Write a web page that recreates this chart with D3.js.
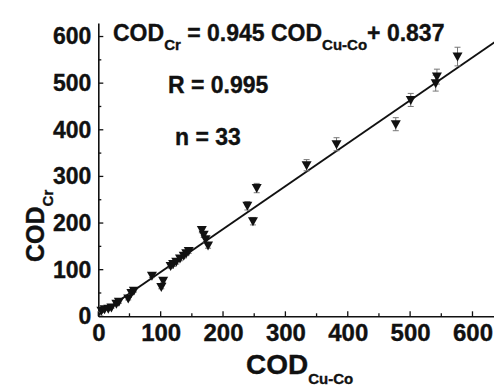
<!DOCTYPE html>
<html><head><meta charset="utf-8">
<script src="https://cdn.jsdelivr.net/npm/d3@7"></script>
<style>body{margin:0;background:#fff}svg{display:block}text{font-family:"Liberation Sans",Arial,sans-serif;font-weight:bold;fill:#111;stroke:#111;stroke-width:0.35px}</style>
</head><body>
<svg id="c" width="494" height="387"></svg>
<script>
const codCuCo = [5,10,16,21,29,33,48,53,57,86,101,104,116,120,125,131,137,141,145,166,169,172,176,239,248,254,334,382,477,501,541,543,576];
const codCr   = [12,15,16,19,27,31,38,50,55,87,63,76,108,112,117,124,130,135,140,185,175,165,152,237,204,275,324,369,412,464,500,514,557];
const errCr   = [2,2,2,2,3,3,3,3,3,4,4,4,5,5,5,5,5,5,5,6,6,6,6,9,8,10,12,14,14,14,17,16,20];
const fitX = [0, 640];
const fitY = [3, 592];
const xTicks = [0,100,200,300,400,500,600];
const yTicks = [0,100,200,300,400,500,600];

const svg = d3.select("#c");
const x = d3.scaleLinear().domain([0, 634.5]).range([98.3, 494]);
const y = d3.scaleLinear().domain([0, 629]).range([316.3, 23]);

svg.append("defs").append("clipPath").attr("id","cp").append("rect")
  .attr("x",98.3).attr("y",10).attr("width",400).attr("height",306.3);

const xAxis = d3.axisBottom(x).tickValues(xTicks).tickSize(0).tickPadding(8).tickFormat(d3.format("d"));
const gx = svg.append("g").attr("transform","translate(0,316.3)").call(xAxis);
gx.select(".domain").attr("stroke","#111").attr("stroke-width",1.6);
gx.selectAll("text").style("font-size","24px").attr("dy","0.71em");
const yAxis = d3.axisLeft(y).tickValues(yTicks).tickSize(0).tickPadding(7).tickFormat(d3.format("d"));
const gy = svg.append("g").attr("transform","translate(98.3,0)").call(yAxis);
gy.select(".domain").attr("stroke","#111").attr("stroke-width",1.6);
gy.selectAll("text").style("font-size","23px");

const xMinor = d3.range(0, 634, 50);
svg.append("g").selectAll("line").data(xMinor).join("line")
  .attr("x1",d=>x(d)).attr("x2",d=>x(d)).attr("y1",316.3).attr("y2",d=>316.3-(d%100===0?5:3))
  .attr("stroke","#111").attr("stroke-width",1.3);
const yMinor = d3.range(0, 629, 50);
svg.append("g").selectAll("line").data(yMinor).join("line")
  .attr("y1",d=>y(d)).attr("y2",d=>y(d)).attr("x1",98.3).attr("x2",d=>98.3+(d%100===0?5:3))
  .attr("stroke","#111").attr("stroke-width",1.3);

svg.append("line").attr("clip-path","url(#cp)")
  .attr("x1",x(fitX[0])).attr("y1",y(fitY[0])).attr("x2",x(fitX[1])).attr("y2",y(fitY[1]))
  .attr("stroke","#111").attr("stroke-width",1.8);

const pts = codCuCo.map((v,i)=>({x:v,y:codCr[i],e:errCr[i]}));
const eb = svg.append("g").attr("stroke","#777").attr("stroke-width",1);
eb.selectAll(".v").data(pts).join("line").attr("x1",d=>x(d.x)).attr("x2",d=>x(d.x))
  .attr("y1",d=>y(d.y-d.e)).attr("y2",d=>y(d.y+d.e));
eb.selectAll(".t").data(pts).join("line").attr("x1",d=>x(d.x)-3).attr("x2",d=>x(d.x)+3)
  .attr("y1",d=>y(d.y+d.e)).attr("y2",d=>y(d.y+d.e));
eb.selectAll(".b").data(pts).join("line").attr("x1",d=>x(d.x)-3).attr("x2",d=>x(d.x)+3)
  .attr("y1",d=>y(d.y-d.e)).attr("y2",d=>y(d.y-d.e));

svg.append("g").selectAll("path").data(pts).join("path")
  .attr("d","M-5,-4L5,-4L0,5Z")
  .attr("transform",d=>`translate(${x(d.x)},${y(d.y)})`)
  .attr("fill","#111");

const eq = svg.append("text").attr("x",113).attr("y",41).style("font-size","23px");
eq.append("tspan").text("COD");
eq.append("tspan").text("Cr").style("font-size","15px").attr("dy",9);
eq.append("tspan").text(" = 0.945 COD").attr("dy",-9);
eq.append("tspan").text("Cu-Co").style("font-size","15px").attr("dy",9);
eq.append("tspan").text("+ 0.837").attr("dy",-9);
svg.append("text").attr("x",168).attr("y",93).style("font-size","23px").text("R = 0.995");
svg.append("text").attr("x",175).attr("y",145).style("font-size","23px").text("n = 33");

const xt = svg.append("text").attr("x",246).attr("y",374).style("font-size","28px");
xt.append("tspan").text("COD");
xt.append("tspan").text("Cu-Co").style("font-size","15px").attr("dy",10);
const yt = svg.append("text").attr("transform","translate(44,262) rotate(-90)").style("font-size","25px");
yt.append("tspan").text("COD");
yt.append("tspan").text("Cr").style("font-size","15px").attr("dy",9);
</script>
</body></html>
